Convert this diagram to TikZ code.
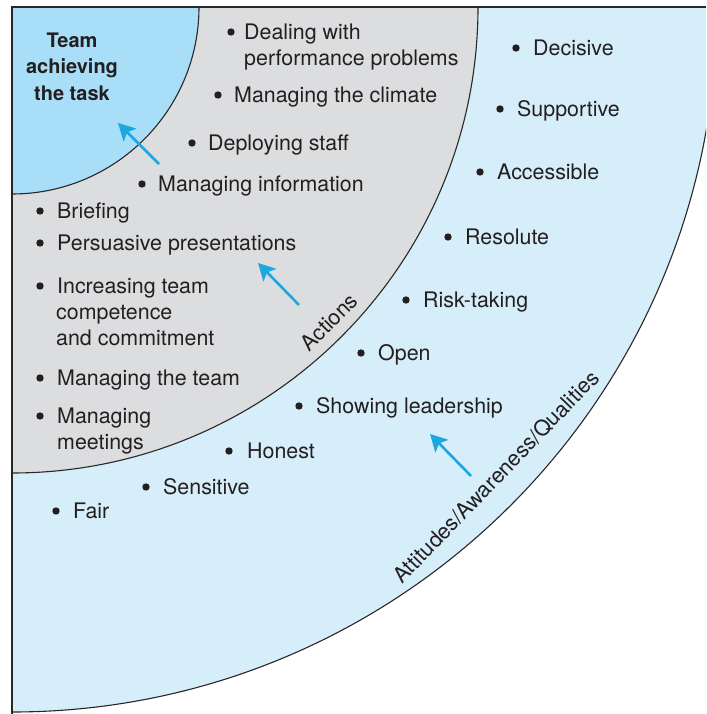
\documentclass[tikz,border=0pt]{standalone}
\usepackage{fontspec}
\setmainfont{TeX Gyre Heros}
\usetikzlibrary{arrows.meta}
\definecolor{innerblue}{RGB}{168,222,248}
\definecolor{midgray}{RGB}{220,221,223}
\definecolor{outerblue}{RGB}{214,237,250}
\definecolor{arrowcyan}{RGB}{27,168,225}
\definecolor{txt}{RGB}{35,31,32}
\definecolor{edgecol}{RGB}{40,40,40}
\begin{document}
\begin{tikzpicture}[x=1pt,y=-1pt,
  lbl/.style={anchor=base west, inner sep=0pt, text=txt, font=\fontsize{21.4}{26}\selectfont},
  title/.style={anchor=base, inner sep=0pt, text=txt, font=\fontsize{20}{26}\selectfont\bfseries},
  rot/.style={anchor=center, inner sep=0pt, text=txt, font=\fontsize{21.6}{26}\selectfont},
  dot/.style={circle, fill=txt, inner sep=0pt, minimum size=7.4pt},
  ring/.style={draw=edgecol, line width=1.1pt},
  flow/.style={draw=arrowcyan, line width=2.6pt, -{Stealth[length=17pt,width=18pt,inset=4pt]}},
  ]
\useasboundingbox (0,0) rectangle (706,714);
\begin{scope}
\clip (12,7) rectangle (706,714);
\fill[outerblue] (12,7) circle[radius=705pt];
\fill[midgray] (12,7) circle[radius=466pt];
\fill[innerblue] (12,7) circle[radius=187pt];
\draw[ring] (12,7) circle[radius=705pt];
\draw[ring] (12,7) circle[radius=466pt];
\draw[ring] (12,7) circle[radius=187pt];
\end{scope}
\draw[ring] (12,714) -- (12,7) -- (706,7);

% centre title
\node[title] (tm1) at (72,47.5) {Team};
\node[title] (tm2) at (72,74) {achieving};
\node[title] (tm3) at (72,100.5) {the task};

% actions
\node[dot] (d1) at (231,32) {};
\node[lbl] (t1a) at (244,39.5) {Dealing with};
\node[lbl] (t1b) at (244,65.5) {performance problems};
\node[dot] (d2) at (218,95) {};
\node[lbl] (t2) at (234,102.5) {Managing the climate};
\node[dot] (d3) at (192,143) {};
\node[lbl] (t3) at (208,150.5) {Deploying staff};
\node[dot] (d4) at (142,184) {};
\node[lbl] (t4) at (158,191.5) {Managing information};
\node[dot] (d5) at (40,211) {};
\node[lbl] (t5) at (57,218.5) {Briefing};
\node[dot] (d6) at (40,243) {};
\node[lbl] (t6) at (57,250.5) {Persuasive presentations};
\node[dot] (d7) at (40,286) {};
\node[lbl] (t7a) at (57,293.5) {Increasing team};
\node[lbl] (t7b) at (56,319.5) {competence};
\node[lbl] (t7c) at (56,345.5) {and commitment};
\node[dot] (d8) at (40,378) {};
\node[lbl] (t8) at (57,385.5) {Managing the team};
\node[dot] (d9) at (40,416) {};
\node[lbl] (t9a) at (57,423.5) {Managing};
\node[lbl] (t9b) at (57,449.5) {meetings};

% qualities
\node[dot] (q1) at (516,48) {};
\node[lbl] (u1) at (533,55.5) {Decisive};
\node[dot] (q2) at (500,109) {};
\node[lbl] (u2) at (517,116.5) {Supportive};
\node[dot] (q3) at (480,172) {};
\node[lbl] (u3) at (497,179.5) {Accessible};
\node[dot] (q4) at (448,237) {};
\node[lbl] (u4) at (465,244.5) {Resolute};
\node[dot] (q5) at (406,300) {};
\node[lbl] (u5) at (423,307.5) {Risk-taking};
\node[dot] (q6) at (361,353) {};
\node[lbl] (u6) at (378,360.5) {Open};
\node[dot] (q7) at (299,406) {};
\node[lbl] (u7) at (316,413.5) {Showing leadership};
\node[dot] (q8) at (229,451) {};
\node[lbl] (u8) at (247,458.5) {Honest};
\node[dot] (q9) at (146,487) {};
\node[lbl] (u9) at (163,494.5) {Sensitive};
\node[dot] (q10) at (56,511) {};
\node[lbl] (u10) at (73,518.5) {Fair};

% ring labels
\node[rot, rotate=45] (lact) at (329,322) {Actions};
\node[rot, rotate=46] (latt) at (496,477) {Attitudes/Awareness/Qualities};

% arrows
\coordinate (a1s) at (159,164);
\coordinate (a1e) at (118,123);
\coordinate (a2s) at (299,305);
\coordinate (a2e) at (258,263);
\coordinate (a3s) at (471,476);
\coordinate (a3e) at (430,434);
\draw[flow] (a1s) -- (a1e);
\draw[flow] (a2s) -- (a2e);
\draw[flow] (a3s) -- (a3e);
\end{tikzpicture}
\end{document}
